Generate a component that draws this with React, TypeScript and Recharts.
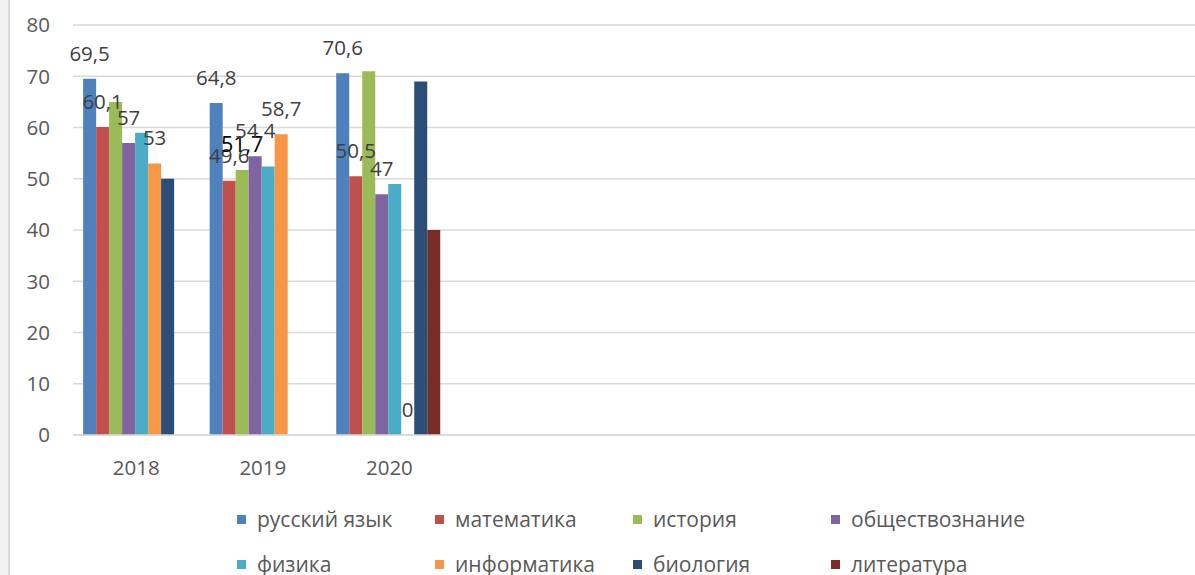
import { Bar, BarChart, CartesianGrid, LabelList, XAxis, YAxis } from "recharts";

const YEARS = ["2018", "2019", "2020"];
// the original axis keeps room for six more (empty) years
const EMPTY_SLOTS = 6;
const Y_TICKS = [0, 10, 20, 30, 40, 50, 60, 70, 80];

const SUBJECTS = [
  "русский язык",
  "математика",
  "история",
  "обществознание",
  "физика",
  "информатика",
  "биология",
  "литература",
];
const COLORS = ["#4f81bd", "#c0504d", "#9bbb59", "#8064a2", "#4bacc6", "#f79646", "#2c4d75", "#772c2a"];

const russian = [69.5, 64.8, 70.6];
const maths = [60.1, 49.6, 50.5];
const history = [65, 51.7, 71];
const social = [57, 54.4, 47];
const physics = [59, 52.4, 49];
const informatics = [53, 58.7, 0];
const biology = [50, null, 69];
const literature = [null, null, 40];

// which years carry a data label in the original
const russianLabels = [true, true, true];
const mathsLabels = [true, true, true];
const historyLabels = [false, true, false];
const socialLabels = [true, true, true];
const physicsLabels = [false, false, false];
const informaticsLabels = [true, true, true];
const biologyLabels = [false, false, false];
const literatureLabels = [false, false, false];

const SERIES = [
  { values: russian, labels: russianLabels },
  { values: maths, labels: mathsLabels },
  { values: history, labels: historyLabels, dark: true },
  { values: social, labels: socialLabels },
  { values: physics, labels: physicsLabels },
  { values: informatics, labels: informaticsLabels },
  { values: biology, labels: biologyLabels },
  { values: literature, labels: literatureLabels },
].map((s, i) => ({ ...s, key: `s${i}`, name: SUBJECTS[i], color: COLORS[i] }));

const fmt = (v: number) => String(v).replace(".", ",");

const data = [
  ...YEARS.map((year, yi) => {
    const row: Record<string, string | number | null> = { year };
    SERIES.forEach((s) => {
      const v = s.values[yi];
      row[s.key] = v;
      row[`${s.key}_label`] = s.labels[yi] && v != null ? fmt(v) : null;
    });
    return row;
  }),
  ...Array.from({ length: EMPTY_SLOTS }, (_, i) => ({ year: `_${i}` })),
];

const FONT = "'Open Sans', sans-serif";
const FS = 20.5;

function Legend() {
  return (
    <>
      {SERIES.map((s, i) => {
        const col = i % 4;
        const row = Math.floor(i / 4);
        return (
          <div
            key={s.key}
            style={{
              position: "absolute",
              left: 237 + col * 198,
              top: 519 + row * 45 - 13,
              height: 26,
              display: "flex",
              alignItems: "center",
              fontFamily: FONT,
              fontSize: 21,
              color: "#595959",
              whiteSpace: "nowrap",
            }}
          >
            <span style={{ width: 9, height: 9, background: s.color, marginRight: 11, display: "inline-block" }} />
            {s.name}
          </div>
        );
      })}
    </>
  );
}

export default function App() {
  return (
    <div
      style={{
        position: "absolute",
        left: 0,
        top: 0,
        width: 1195,
        height: 575,
        overflow: "hidden",
        background: "#fff",
      }}
    >
      <div style={{ position: "absolute", left: 0, top: 0, width: 8, height: 575, background: "#f2f2f2" }} />
      <div style={{ position: "absolute", left: 8, top: 0, width: 2, height: 575, background: "#d9d9d9" }} />
      <div style={{ position: "absolute", left: 0, top: 0 }}>
        <BarChart
          width={1212}
          height={575}
          data={data}
          margin={{ top: 25, right: 0, left: 0, bottom: 0 }}
          barCategoryGap="8%"
          barGap={0}
        >
          <CartesianGrid vertical={false} stroke="#d9d9d9" strokeWidth={1.5} />
          <XAxis
            dataKey="year"
            height={140}
            interval={0}
            tickFormatter={(v: string) => (v.startsWith("_") ? "" : v)}
            tick={{ fontSize: FS, fill: "#595959", fontFamily: FONT }}
            axisLine={{ stroke: "#d9d9d9", strokeWidth: 1.5 }}
            tickLine={false}
            tickSize={0}
            tickMargin={25}
          />
          <YAxis
            width={73}
            domain={[0, 80]}
            ticks={Y_TICKS}
            interval={0}
            tick={{ fontSize: FS, fill: "#595959", fontFamily: FONT }}
            axisLine={false}
            tickLine={false}
            tickSize={0}
            tickMargin={23}
          />
          {SERIES.map((s) => (
            <Bar
              key={s.key}
              dataKey={s.key}
              name={s.name}
              fill={s.color}
              minPointSize={0.01}
              isAnimationActive={false}
            >
              <LabelList
                dataKey={`${s.key}_label`}
                position="top"
                offset={18}
                fill={s.dark ? "#000" : "#404040"}
                fontSize={s.dark ? FS + 1 : FS}
                fontFamily={FONT}
              />
            </Bar>
          ))}
        </BarChart>
      </div>
      <Legend />
    </div>
  );
}
